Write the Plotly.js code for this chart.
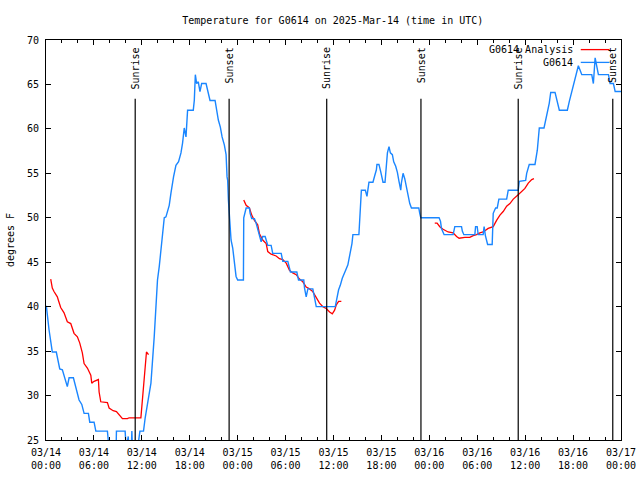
<!DOCTYPE html>
<html>
<head>
<meta charset="utf-8">
<script src="https://cdn.plot.ly/plotly-3.0.1.min.js"></script>
<style>html,body{margin:0;padding:0;background:#fff;}#chart{width:640px;height:480px;}</style>
</head>
<body>
<div id="chart"></div>
<script>
// Hours since 2025-03-14 00:00 UTC
var obsHours = [0.04,0.38,0.79,1.29,1.72,2.05,2.67,2.89,3.43,3.73,4.14,4.48,4.77,5.31,5.48,6.02,6.24,7.69,7.90,8.78,8.82,9.91,10.04,10.30,10.38,10.70,10.75,10.83,11.46,11.76,12.21,12.42,13.14,13.55,13.76,13.96,14.18,14.39,14.59,14.81,15.02,15.22,15.43,15.65,15.85,15.97,16.27,16.60,16.90,17.10,17.31,17.53,17.73,18.44,18.57,18.70,18.86,19.07,19.28,19.49,20.04,20.24,20.54,21.17,21.37,21.58,21.83,22.05,22.33,22.55,22.67,22.75,22.84,22.96,23.05,23.17,23.38,23.59,23.80,24.00,24.72,24.76,25.06,25.47,25.56,25.76,26.10,26.31,26.51,26.73,26.94,27.14,27.44,27.57,27.77,28.19,28.39,29.45,29.65,30.28,30.61,31.41,31.62,32.28,32.37,32.58,32.79,33.41,33.63,33.84,36.22,36.42,36.64,36.85,37.10,37.52,37.80,38.31,38.43,39.18,39.36,39.49,39.99,40.19,40.44,40.94,41.15,41.37,41.44,41.69,41.91,42.20,42.45,42.62,42.75,42.95,43.12,43.37,43.54,43.79,44.00,44.20,44.42,44.50,44.71,44.92,45.13,45.33,45.55,45.76,46.68,46.80,46.93,49.22,49.40,49.52,49.85,50.98,51.19,52.03,52.13,52.32,53.70,53.79,53.99,54.12,54.74,54.86,55.02,55.30,55.87,56.00,56.30,56.50,56.71,57.68,57.88,59.13,59.26,60.06,60.19,60.51,61.23,61.52,61.77,62.36,62.57,62.82,63.02,63.20,63.74,64.28,65.28,65.53,65.83,66.12,66.46,66.66,66.88,67.09,68.34,68.54,68.76,68.97,69.17,70.43,70.64,71.05,71.27,72.00];
var obsTemp = [40.1,37.4,34.9,34.9,33.0,32.9,31.0,32.0,32.0,31.0,29.5,29.0,28.0,28.0,27.0,27.0,26.0,26.0,24.0,24.0,26.0,26.0,24.0,25.4,24.0,24.5,26.0,24.0,24.0,26.0,26.0,27.5,31.4,36.6,40.5,43.0,44.5,46.4,48.3,50.0,50.1,50.7,51.4,52.8,54.2,54.6,55.9,56.3,57.3,58.4,60.1,59.1,62.1,62.1,63.2,66.1,65.1,65.3,64.2,65.1,65.1,64.4,63.2,63.2,62.1,61.0,60.2,59.1,58.2,57.1,54.6,54.2,52.0,50.3,48.9,47.5,46.6,45.2,43.4,43.0,43.0,50.0,51.1,51.1,50.5,49.9,49.9,49.4,48.8,48.1,47.3,47.9,47.9,47.5,46.9,46.9,46.0,46.0,45.1,45.1,43.9,43.9,43.0,43.0,42.1,41.1,42.0,42.0,40.7,40.0,40.0,41.1,41.9,42.4,43.2,44.1,44.7,47.1,48.1,48.1,51.8,53.1,53.1,52.4,54.0,54.0,54.7,55.4,56.0,56.0,55.2,54.0,54.0,56.3,57.3,58.0,57.3,57.1,56.3,55.8,55.1,54.1,53.1,53.9,55.0,54.4,53.5,52.4,51.6,51.1,51.1,50.5,50.0,50.0,49.6,48.8,48.1,48.1,49.0,49.0,48.5,48.1,48.1,49.0,49.0,48.1,48.1,49.0,48.0,47.0,47.0,50.5,51.1,51.1,52.1,52.1,53.1,53.1,54.1,54.2,55.0,56.0,56.0,57.6,60.1,60.1,61.0,62.0,62.9,64.1,64.1,62.1,62.1,63.1,64.2,65.3,66.4,67.1,66.6,66.1,66.1,65.1,68.0,67.0,66.1,66.1,65.1,65.1,64.2,64.2];

var anaHours = [0.59,0.79,1.00,1.42,1.54,1.84,2.26,2.67,3.10,3.51,3.93,4.23,4.55,4.77,5.18,5.61,5.73,6.02,6.56,6.65,6.86,7.69,7.90,8.41,8.82,9.16,9.57,10.20,10.41,11.88,12.08,12.30,12.42,12.58,12.84,null,
  24.76,25.06,25.47,25.76,26.10,26.51,26.73,27.14,27.57,27.77,28.19,28.82,29.23,29.65,30.08,30.49,30.90,31.33,31.74,32.16,32.58,33.00,33.41,33.84,34.25,34.67,35.09,35.51,35.85,36.14,36.35,36.64,36.98,null,
  48.68,48.97,49.31,49.72,50.35,50.98,51.41,51.73,52.45,53.07,53.49,53.91,54.33,54.74,55.37,56.00,56.42,56.84,57.25,57.68,58.09,58.51,59.13,59.56,59.97,60.39,60.82,61.10];
var anaTemp = [43.1,42.1,41.7,41.1,40.75,39.9,39.3,38.3,38.1,37.0,36.6,35.9,34.8,33.6,33.1,32.3,31.4,31.6,31.8,30.4,29.3,29.2,28.6,28.3,28.2,27.8,27.4,27.4,27.5,27.5,29.7,31.2,32.7,34.9,34.6,null,
  52.0,51.4,51.1,50.3,49.7,49.2,48.2,47.5,47.1,46.2,45.9,45.7,45.4,45.3,44.9,44.1,43.8,43.6,43.1,42.8,42.2,42.0,41.7,41.1,40.4,40.0,39.8,39.4,39.2,39.6,40.2,40.6,40.6,null,
  49.4,49.4,49.0,48.7,48.4,48.3,47.9,47.7,47.8,47.8,48.0,48.1,48.3,48.4,48.8,49.0,49.7,50.3,50.7,51.3,51.6,52.1,52.6,53.0,53.3,53.9,54.3,54.4];

var sunLabels = ["Sunrise","Sunset","Sunrise","Sunset","Sunrise","Sunset"];
var sunHours = [11.17,22.93,35.15,46.95,59.13,70.97];

var legendNames = ["G0614 Analysis","G0614"];
var colAna = "#ff0000", colObs = "#1a86ff";

var base = Date.UTC(2025,2,14,0,0,0);
function toDate(h){
  if (h === null) return null;
  var d = new Date(base + h*3600000);
  return d.toISOString().slice(0,19).replace('T',' ');
}

var font = "'DejaVu Sans Mono', 'Liberation Mono', monospace";

var traces = [
  {x: anaHours.map(toDate), y: anaTemp, type:'scatter', mode:'lines', name: legendNames[0],
   line:{color:colAna, width:1.3}, connectgaps:false, hoverinfo:'skip'},
  {x: obsHours.map(toDate), y: obsTemp, type:'scatter', mode:'lines', name: legendNames[1],
   line:{color:colObs, width:1.4}, hoverinfo:'skip'}
];

var shapes = [], annotations = [];
for (var i=0;i<sunHours.length;i++){
  var xd = toDate(sunHours[i]);
  shapes.push({type:'line', xref:'x', yref:'y', x0:xd, x1:xd, y0:25, y1:63.4,
               line:{color:'#000', width:1.2}});
  annotations.push({x:xd, y:69.4, xref:'x', yref:'y', text:sunLabels[i], textangle:-90,
               showarrow:false, xanchor:'center', yanchor:'top', font:{family:font, size:10, color:'#000'}});
}
// legend (gnuplot style: text right-justified, sample to the right)
var legY = [0.976, 0.944], legCol = [colAna, colObs];
for (var j=0;j<2;j++){
  annotations.push({x:0.92, y:legY[j], xref:'paper', yref:'paper', text:legendNames[j], showarrow:false,
    xanchor:'right', yanchor:'middle', font:{family:font, size:10, color:'#000'}});
  shapes.push({type:'line', xref:'paper', yref:'paper', x0:0.930, x1:0.980, y0:legY[j], y1:legY[j],
    line:{color:legCol[j], width:1.3}});
}

var layout = {
  width:640, height:480,
  margin:{l:46, r:19, t:40, b:40},
  paper_bgcolor:'#fff', plot_bgcolor:'#fff',
  showlegend:false,
  font:{family:font, size:10, color:'#000'},
  title:{text:'Temperature for G0614 on 2025-Mar-14 (time in UTC)', font:{family:font, size:10, color:'#000'},
         xref:'container', x:0.52, xanchor:'center', yref:'container', y:0.958, yanchor:'middle'},
  xaxis:{type:'date', range:[toDate(0), toDate(72)], dtick:21600000, tick0:toDate(0),
         tickformat:'%m/%d<br>%H:%M', ticks:'inside', ticklen:5, tickcolor:'#000', tickwidth:1,
         minor:{dtick:7200000, ticks:'inside', ticklen:3, tickcolor:'#000'},
         showline:true, linecolor:'#000', linewidth:1, mirror:'ticks', showgrid:false, zeroline:false,
         tickfont:{family:font, size:10, color:'#000'}, ticklabelstandoff:3},
  yaxis:{range:[25,70], dtick:5, tick0:25, ticks:'inside', ticklen:5, tickcolor:'#000',
         showline:true, linecolor:'#000', linewidth:1, mirror:'ticks', showgrid:false, zeroline:false,
         tickfont:{family:font, size:10, color:'#000'}, ticklabelstandoff:4,
         title:{text:'degrees F', font:{family:font, size:10, color:'#000'}, standoff:10}},
  shapes:shapes,
  annotations:annotations
};

Plotly.newPlot('chart', traces, layout, {staticPlot:true, displayModeBar:false});
</script>
</body>
</html>
